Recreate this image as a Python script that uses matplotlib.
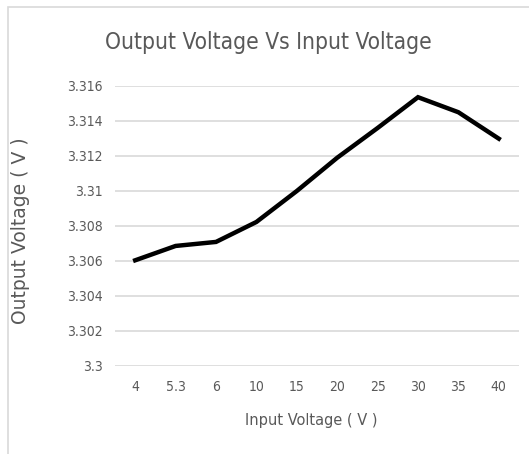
import numpy as np
import matplotlib.pyplot as plt
from matplotlib.patches import Rectangle

input_v = ['4', '5.3', '6', '10', '15', '20', '25', '30', '35', '40']
output_v = [3.30604, 3.30686, 3.30709, 3.30823, 3.31, 3.3119, 3.3136, 3.31536, 3.3145, 3.31299]
y_ticks = [3.3, 3.302, 3.304, 3.306, 3.308, 3.31, 3.312, 3.314, 3.316]
y_labels = ['3.3', '3.302', '3.304', '3.306', '3.308', '3.31', '3.312', '3.314', '3.316']

grey = '#595959'
plt.rcParams['font.family'] = ['DejaVu Sans']

fig = plt.figure(figsize=(5.29, 4.54), dpi=100)
# light frame round the chart area
fig.patches.append(Rectangle((8/529, -0.1), 1.2, 1 - 7/454 + 0.1, transform=fig.transFigure,
                             fill=False, edgecolor='#d9d9d9', linewidth=1.2))

ax = fig.add_axes([115/529, 1 - 366/454, 404/529, 280/454])
x = np.arange(len(input_v))
ax.plot(x, output_v, color='black', linewidth=3.2, solid_joinstyle='miter')
ax.set_xlim(-0.5, len(input_v) - 0.5)
ax.set_ylim(3.3, 3.316)
ax.set_yticks(y_ticks)
ax.set_yticklabels(y_labels)
ax.set_xticks(x)
ax.set_xticklabels(input_v)
ax.grid(axis='y', color='#d9d9d9', linewidth=1.2)
ax.set_axisbelow(True)
for s in ax.spines.values():
    s.set_visible(False)
ax.tick_params(length=0, colors=grey, labelsize=10)
ax.tick_params(axis='y', pad=9)
ax.tick_params(axis='x', pad=10)
for lab in ax.get_xticklabels() + ax.get_yticklabels():
    lab.set_fontstretch('condensed')

fig.text(268/529, 1 - 42/454, 'Output Voltage Vs Input Voltage', ha='center', va='center',
         fontsize=16.3, color=grey, fontstretch='condensed')
fig.text(311/529, 1 - 420/454, 'Input Voltage ( V )', ha='center', va='center',
         fontsize=11.7, color=grey, fontstretch='condensed')
fig.text(21/529, 1 - 231/454, 'Output Voltage ( V )', ha='center', va='center',
         rotation=90, fontsize=13.5, color=grey)

fig.savefig('out.png', dpi=100)
